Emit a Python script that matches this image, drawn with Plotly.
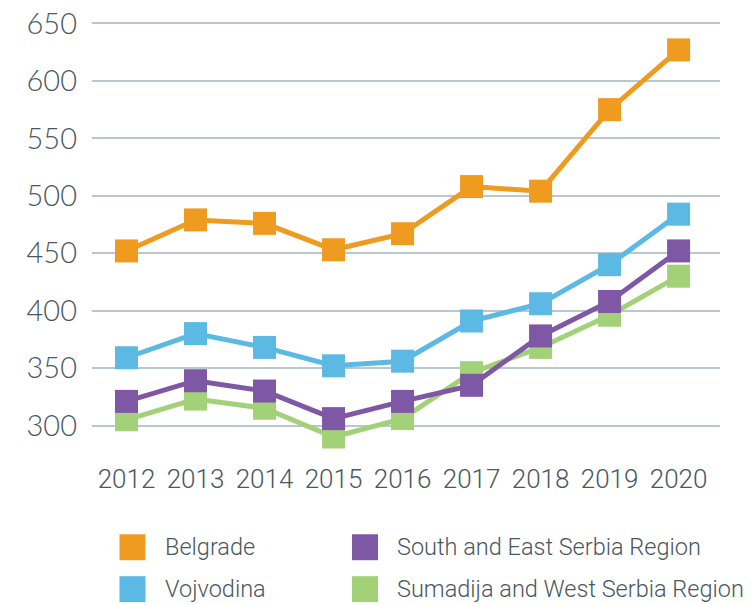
import plotly.graph_objects as go

years = ["2012", "2013", "2014", "2015", "2016", "2017", "2018", "2019", "2020"]
belgrade = [452, 479, 476, 453, 467, 508, 504, 575, 627]
vojvodina = [359, 380, 368, 352, 356, 391, 406, 440, 484]
south_east = [321, 339, 330, 306, 321, 335, 378, 408, 452]
sumadija = [305, 323, 315, 290, 306, 346, 368, 396, 430]

names = ["Belgrade", "Vojvodina", "Sumadija and West Serbia Region", "South and East Serbia Region"]
colors = ["#EF9B20", "#5BB9E3", "#A3D177", "#7F58A5"]
series = [belgrade, vojvodina, sumadija, south_east]

W, H = 754, 605
L, R, T, B = 92, 34, 11.5, 167.5
pw, ph = W - L - R, H - T - B

fig = go.Figure()
for name, col, vals in zip(names, colors, series):
    fig.add_trace(go.Scatter(
        x=years, y=vals, name=name, mode="lines+markers",
        line=dict(color=col, width=5),
        marker=dict(symbol="square", size=23, color=col),
        cliponaxis=False, showlegend=False,
    ))

def px_x(px):
    return (px - L) / pw

def px_y(py):
    return (H - B - py) / ph

# manual legend (row-major: Belgrade, South&East / Vojvodina, Sumadija)
legend_items = [
    ("Belgrade", colors[0], 132.5, 548, 163),
    ("South and East Serbia Region", colors[3], 365, 548, 395),
    ("Vojvodina", colors[1], 132.5, 590, 163),
    ("Sumadija and West Serbia Region", colors[2], 365, 590, 395),
]
shapes = []
annotations = []
s = 13
for label, col, cx, cy, tx in legend_items:
    shapes.append(dict(type="rect", xref="paper", yref="paper",
                       x0=px_x(cx - s), x1=px_x(cx + s), y0=px_y(cy + s), y1=px_y(cy - s),
                       fillcolor=col, line=dict(width=0)))
    annotations.append(dict(xref="paper", yref="paper", x=px_x(tx), y=px_y(cy),
                            xanchor="left", yanchor="middle", text=label, showarrow=False,
                            font=dict(family="Roboto", size=23.5, color="#4A5761", weight=300)))

fig.update_layout(
    width=W, height=H,
    margin=dict(l=L, r=R, t=T, b=B, pad=0, autoexpand=False),
    paper_bgcolor="white", plot_bgcolor="white",
    shapes=shapes, annotations=annotations,
    xaxis=dict(type="category", range=[-0.5, 8.6], showgrid=False, zeroline=False,
               showline=False, ticks="", ticklabelstandoff=24, automargin=False,
               tickfont=dict(family="Roboto", size=26, color="#4A5761", weight=300)),
    yaxis=dict(range=[290, 660], tickvals=[300, 350, 400, 450, 500, 550, 600, 650],
               showgrid=True, gridcolor="#BAC6D0", gridwidth=2, zeroline=False,
               showline=False, ticks="", ticklabelstandoff=14, automargin=False,
               tickfont=dict(family="Lato", size=29, color="#4A5761", weight=300)),
)

fig.write_html("out.html")
